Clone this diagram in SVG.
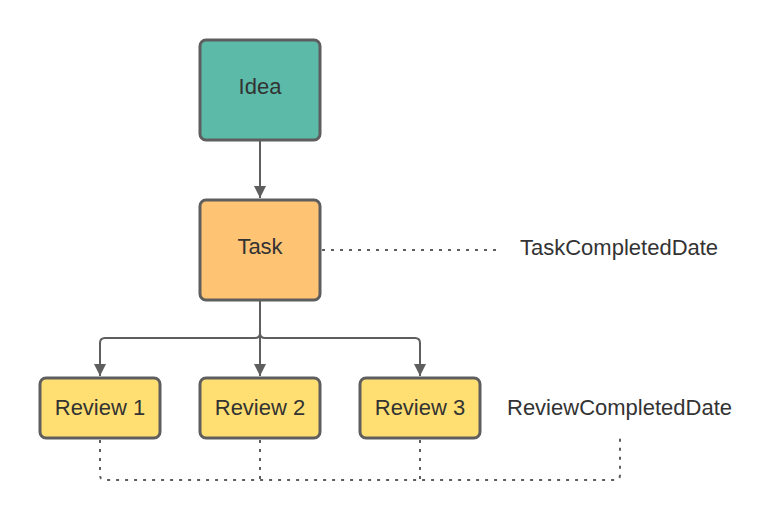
<svg xmlns="http://www.w3.org/2000/svg" width="780" height="520" viewBox="0 0 780 520">
<style>
.box{stroke:#5e5e5e;stroke-width:3}
.lbl{font-family:"Liberation Sans",Arial,sans-serif;font-size:22px;fill:#333333;text-anchor:middle;dominant-baseline:central}
.side{font-family:"Liberation Sans",Arial,sans-serif;font-size:22px;fill:#333333;dominant-baseline:central}
.ln{fill:none;stroke:#5e5e5e;stroke-width:2}
.dot{fill:none;stroke:#5e5e5e;stroke-width:2;stroke-dasharray:3 6}
</style>
<defs>
<marker id="ah" viewBox="0 0 10 10" refX="10" refY="5" markerWidth="12" markerHeight="12" markerUnits="userSpaceOnUse" orient="auto">
<path d="M0,0 L10,5 L0,10 z" fill="#5e5e5e"/>
</marker>
</defs>
<rect width="780" height="520" fill="#ffffff"/>
<g id="connectors">
<path class="ln" d="M260,141 V198" marker-end="url(#ah)"/>
<path class="ln" d="M260,301 V376" marker-end="url(#ah)"/>
<path class="ln" d="M260,333 Q260,338 255,338 H105 Q100,338 100,343 V376" marker-end="url(#ah)"/>
<path class="ln" d="M260,333 Q260,338 265,338 H415 Q420,338 420,343 V376" marker-end="url(#ah)"/>
<path class="dot" d="M322,250 H500"/>
<path class="dot" d="M100,440 V475 Q100,480 105,480 H615 Q620,480 620,475 V438"/>
<path class="dot" d="M260,440 V480"/>
<path class="dot" d="M420,440 V480"/>
</g>
<g id="idea">
<rect class="box" x="200" y="40" width="120" height="100" rx="6" fill="#5cbaa9"/>
<text class="lbl" x="260" y="86">Idea</text>
</g>
<g id="task">
<rect class="box" x="200" y="200" width="120" height="100" rx="6" fill="#ffc374"/>
<text class="lbl" x="260" y="246">Task</text>
</g>
<g id="review1">
<rect class="box" x="40" y="378" width="120" height="60" rx="6" fill="#ffdf71"/>
<text class="lbl" x="100" y="407">Review 1</text>
</g>
<g id="review2">
<rect class="box" x="200" y="378" width="120" height="60" rx="6" fill="#ffdf71"/>
<text class="lbl" x="260" y="407">Review 2</text>
</g>
<g id="review3">
<rect class="box" x="360" y="378" width="120" height="60" rx="6" fill="#ffdf71"/>
<text class="lbl" x="420" y="407">Review 3</text>
</g>
<g id="taskDate">
<text class="side" x="520" y="247">TaskCompletedDate</text>
</g>
<g id="reviewDate">
<text class="side" x="507" y="407">ReviewCompletedDate</text>
</g>
</svg>
